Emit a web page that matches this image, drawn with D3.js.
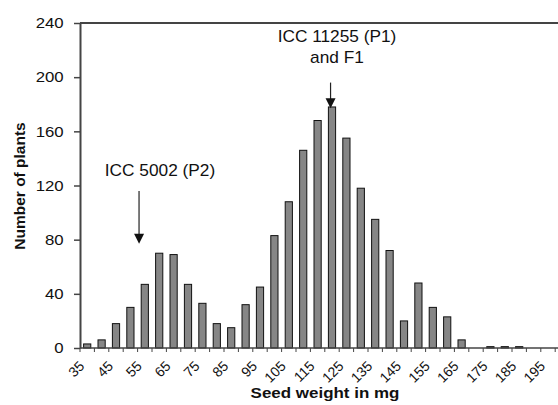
<!DOCTYPE html>
<html><head><meta charset="utf-8">
<script src="https://cdn.jsdelivr.net/npm/d3@7"></script>
<style>body{margin:0;background:#fff}svg{display:block}text{font-family:Arial,"Liberation Sans",sans-serif;fill:#111}</style>
</head><body>
<script>
const categories = [35,40,45,50,55,60,65,70,75,80,85,90,95,100,105,110,115,120,125,130,135,140,145,150,155,160,165,170,175,180,185,190,195,200];
const values = [3,6,18,30,47,70,69,47,33,18,15,32,45,83,108,146,168,178,155,118,95,72,20,48,30,23,6,0,1,1,1,0,0,0];
const yTicks = [0,40,80,120,160,200,240];
const xTickLabels = [35,45,55,65,75,85,95,105,115,125,135,145,155,165,175,185,195];
const annLabels = [["ICC 5002 (P2)"],["ICC 11255 (P1)","and F1"]];
const annCats = [53,119.5];
const annFrom = [116,196];
const annTo = [77,177];

const W=558,H=405;
const mLeft=80, mTop=23, mBottom=348, band=14.4;
const svg=d3.select("body").append("svg").attr("width",W).attr("height",H);
const x=d3.scaleLinear().domain([32.5,32.5+5*categories.length]).range([mLeft,mLeft+band*categories.length]);
const y=d3.scaleLinear().domain([0,240]).range([mBottom,mTop]);

// bars
svg.append("g").selectAll("rect").data(categories).join("rect")
  .attr("x",d=>x(d)-3.6).attr("width",7.2)
  .attr("y",(d,i)=>y(values[i])).attr("height",(d,i)=>mBottom-y(values[i]))
  .attr("fill","#868686").attr("stroke","#111").attr("stroke-width",1);

// top border
svg.append("line").attr("x1",mLeft).attr("x2",W).attr("y1",mTop).attr("y2",mTop).attr("stroke","#444").attr("stroke-width",2);

// y axis
const ya=svg.append("g").attr("transform",`translate(${mLeft},0)`)
  .call(d3.axisLeft(y).tickValues(yTicks).tickSize(6).tickPadding(5).tickSizeOuter(0));
ya.select(".domain").attr("stroke","#444").attr("stroke-width",2);
ya.selectAll(".tick line").attr("stroke","#444").attr("stroke-width",1.5);
ya.selectAll(".tick text").attr("font-size",15).attr("fill","#111").attr("font-family","Arial, Liberation Sans, sans-serif")
  .attr("transform","translate(-4,0) scale(1.12,1)");

// x axis line + ticks at category boundaries
svg.append("line").attr("x1",mLeft).attr("x2",W).attr("y1",mBottom).attr("y2",mBottom).attr("stroke","#444").attr("stroke-width",1.5);
svg.append("g").selectAll("line").data(d3.range(categories.length+1)).join("line")
  .attr("x1",k=>x(32.5+5*k)).attr("x2",k=>x(32.5+5*k)).attr("y1",mBottom).attr("y2",mBottom+4)
  .attr("stroke","#444").attr("stroke-width",1);
svg.append("g").selectAll("text").data(xTickLabels).join("text")
  .attr("transform",d=>`translate(${x(d)-2},${mBottom+19}) rotate(-45)`)
  .attr("text-anchor","end").attr("font-size",14).text(d=>d);

// titles
svg.append("text").attr("x",325).attr("y",398).attr("text-anchor","middle").attr("font-weight","bold").attr("font-size",15)
  .attr("transform","translate(325,0) scale(1.13,1) translate(-325,0)").text("Seed weight in mg");
svg.append("text").attr("transform","translate(25,186) rotate(-90)").attr("text-anchor","middle").attr("font-weight","bold").attr("font-size",15.5).text("Number of plants");

// annotations
const annText=[{tx:160, ty:[176]},{tx:337, ty:[42,63]}];
annCats.forEach((c,i)=>{
  const cx=x(c);
  const ty=y(annTo[i]);
  svg.append("line").attr("x1",cx).attr("x2",cx).attr("y1",y(annFrom[i])).attr("y2",ty-8).attr("stroke","#222").attr("stroke-width",1.2);
  svg.append("path").attr("d",`M${cx-5},${ty-10}L${cx+5},${ty-10}L${cx},${ty}Z`).attr("fill","#111");
  annLabels[i].forEach((l,j)=>svg.append("text").attr("x",annText[i].tx).attr("y",annText[i].ty[j]).attr("text-anchor","middle").attr("font-size",16)
    .attr("transform",`translate(${annText[i].tx},0) scale(1.08,1) translate(${-annText[i].tx},0)`).text(l));
});
</script>
</body></html>
